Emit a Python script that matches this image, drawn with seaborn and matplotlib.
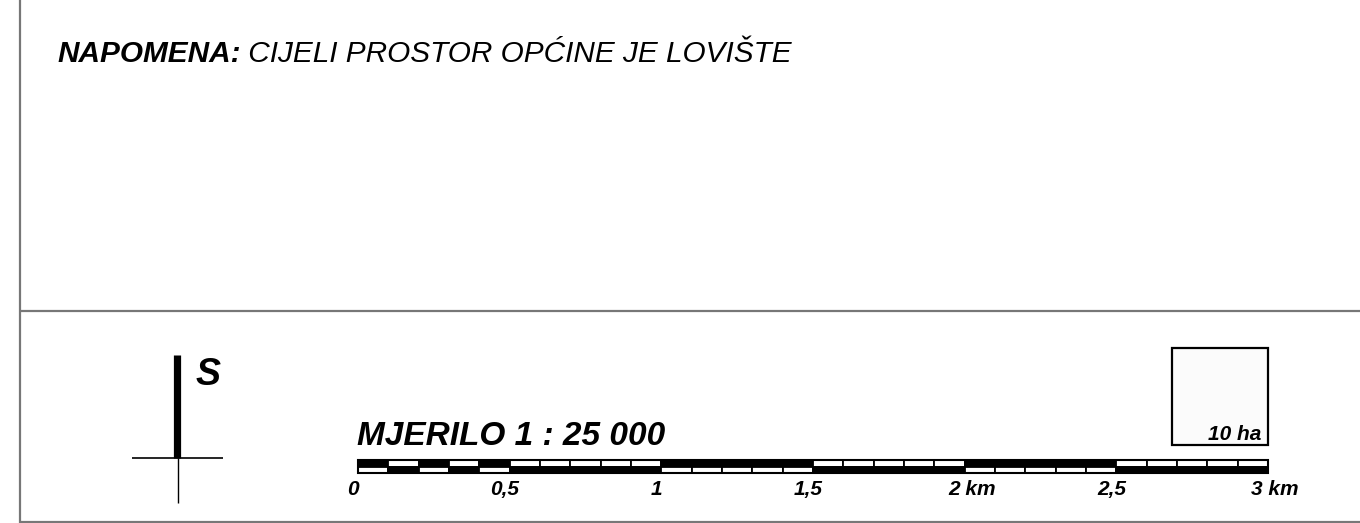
import matplotlib
matplotlib.use("Agg")
import matplotlib.pyplot as plt
import matplotlib.transforms as mtransforms
from matplotlib.patches import Rectangle
import seaborn as sns

# ---------------- data ----------------
note_bold = "NAPOMENA:"
note_text = " CIJELI PROSTOR OPĆINE JE LOVIŠTE"
scale_title = "MJERILO 1 : 25 000"
north_label = "S"
area_label = "10 ha"

seg_starts_km = [i / 10 for i in range(30)]          # 0.1 km cells
top_black = [1, 0, 1, 0, 1,  0, 0, 0, 0, 0,
             1, 1, 1, 1, 1,  0, 0, 0, 0, 0,
             1, 1, 1, 1, 1,  0, 0, 0, 0, 0]
tick_km = [0, 0.5, 1, 1.5, 2, 2.5, 3]
tick_labels = ["0", "0,5", "1", "1,5", "2 km", "2,5", "3 km"]

# ---------------- style ----------------
sns.set_theme(style="white")
plt.rcParams["font.family"] = ["Liberation Sans", "DejaVu Sans"]

W, H = 1360, 523
fig = plt.figure(figsize=(W / 100, H / 100), dpi=100)
fig.patch.set_facecolor("white")

# overlay in pixel space for frame and symbols
ov = fig.add_axes([0, 0, 1, 1])
ov.set_xlim(0, W)
ov.set_ylim(H, 0)
ov.axis("off")

gray = "#777777"
ov.plot([19.5, 19.5], [0, H], color=gray, lw=1.6, solid_capstyle="butt")
ov.plot([19.5, W], [311, 311], color=gray, lw=1.6, solid_capstyle="butt")
ov.plot([19.5, W], [521.5, 521.5], color=gray, lw=1.6, solid_capstyle="butt")

# note text
t = ov.text(57, 62, note_bold, fontsize=21.4, fontweight="bold", fontstyle="italic",
            color="black", va="baseline", ha="left")
ov.annotate(note_text, xy=(1, 0), xycoords=t, va="bottom", ha="left",
            fontsize=21.4, fontstyle="italic", color="black")

# north arrow
ov.plot([177, 177], [355, 458], color="black", lw=5.2, solid_capstyle="butt")
ov.plot([132, 223], [458, 458], color="black", lw=1.2, solid_capstyle="butt")
ov.plot([178, 178], [458, 503], color="black", lw=1.0, solid_capstyle="butt")
ov.text(196, 385, north_label, fontsize=27, fontweight="bold", fontstyle="italic",
        va="baseline", ha="left", color="black")

# 10 ha box
ov.add_patch(Rectangle((1172, 348), 96, 97, facecolor="#fbfbfb",
                       edgecolor="black", lw=1.6))
ov.text(1261, 440, area_label, fontsize=15, fontweight="bold", fontstyle="italic",
        va="baseline", ha="right", color="black")

# scale title
ov.text(357, 445, scale_title, fontsize=24, fontweight="bold", fontstyle="italic",
        va="baseline", ha="left", color="black")

# scale bar axes in km
bar_l, bar_r, bar_t, bar_b = 358, 1268, 460, 473
sb = fig.add_axes([bar_l / W, (H - bar_b) / H, (bar_r - bar_l) / W, (bar_b - bar_t) / H])
sb.set_xlim(0, 3)
sb.set_ylim(0, 2)
sb.axis("off")
for s, tb in zip(seg_starts_km, top_black):
    sb.add_patch(Rectangle((s, 1), 0.1, 1, facecolor="black" if tb else "white",
                           edgecolor="black", lw=1.3, clip_on=False))
    sb.add_patch(Rectangle((s, 0), 0.1, 1, facecolor="white" if tb else "black",
                           edgecolor="black", lw=1.3, clip_on=False))
sb.add_patch(Rectangle((0, 0), 3, 2, facecolor="none", edgecolor="black",
                       lw=1.5, clip_on=False))

px_per_unit_y = (bar_b - bar_t) / 2.0
y_lab = -(495 - bar_b) / px_per_unit_y
for km, lab in zip(tick_km, tick_labels):
    dx_px = 7 if "km" in lab else -5
    tr = mtransforms.offset_copy(sb.transData, fig=fig, x=dx_px * 0.72, y=0, units="points")
    sb.text(km, y_lab, lab, transform=tr, fontsize=15, fontweight="bold",
            fontstyle="italic", ha="center", va="baseline", color="black", clip_on=False)

fig.savefig("out.png", dpi=100, facecolor="white")
